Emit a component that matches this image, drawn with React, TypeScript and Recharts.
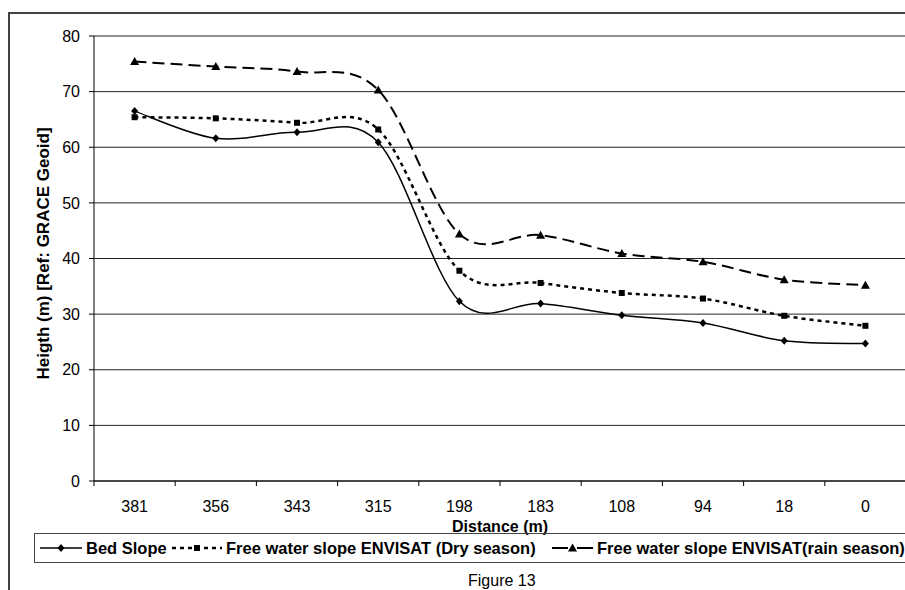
import { LineChart, Line, XAxis, YAxis, CartesianGrid } from "recharts";

const distances = ["381", "356", "343", "315", "198", "183", "108", "94", "18", "0"];
const bedSlope = [66.5, 61.6, 62.7, 60.9, 32.3, 31.9, 29.8, 28.4, 25.2, 24.7];
const drySeason = [65.4, 65.2, 64.4, 63.2, 37.8, 35.6, 33.8, 32.8, 29.7, 27.9];
const rainSeason = [75.4, 74.5, 73.6, 70.3, 44.4, 44.2, 40.9, 39.4, 36.2, 35.2];
const yTicks = [0, 10, 20, 30, 40, 50, 60, 70, 80];

const FONT = "Arial, 'Liberation Sans', sans-serif";
const CHART_W = 930;
const PLOT_LEFT = 94;
const PLOT_RIGHT = 906;
const BAND = (PLOT_RIGHT - PLOT_LEFT) / distances.length;

const series = [
  { key: "bed", name: "Bed Slope", dash: undefined, iconDash: undefined, width: 1.5, marker: "diamond", left: 5, icon: 42 },
  { key: "dry", name: "Free water slope ENVISAT (Dry season)", dash: "4 4", iconDash: "4 4", width: 2.5, marker: "square", left: 137, icon: 50 },
  { key: "rain", name: "Free water slope ENVISAT(rain season)", dash: "12 6", iconDash: "16 9", width: 2, marker: "triangle", left: 517, icon: 41 },
];

const data = distances.map((d, i) => ({
  distance: d,
  bed: bedSlope[i],
  dry: drySeason[i],
  rain: rainSeason[i],
}));

// excel style smoothing (catmull-rom as bezier segments)
function excelSmooth(context: any) {
  let pts: number[][] = [];
  return {
    areaStart() {},
    areaEnd() {},
    lineStart() {
      pts = [];
    },
    lineEnd() {
      if (!pts.length) return;
      context.moveTo(pts[0][0], pts[0][1]);
      for (let i = 0; i < pts.length - 1; i++) {
        const p0 = pts[i - 1] || pts[i];
        const p1 = pts[i];
        const p2 = pts[i + 1];
        const p3 = pts[i + 2] || p2;
        context.bezierCurveTo(
          p1[0] + (p2[0] - p0[0]) / 6,
          p1[1] + (p2[1] - p0[1]) / 6,
          p2[0] - (p3[0] - p1[0]) / 6,
          p2[1] - (p3[1] - p1[1]) / 6,
          p2[0],
          p2[1]
        );
      }
    },
    point(x: number, y: number) {
      pts.push([+x, +y]);
    },
  };
}

function Marker({ cx, cy, shape }: any) {
  if (cx == null || cy == null) return null;
  if (shape === "diamond")
    return <polygon points={`${cx},${cy - 4} ${cx + 3.5},${cy} ${cx},${cy + 4} ${cx - 3.5},${cy}`} fill="#000" />;
  if (shape === "square") return <rect x={cx - 3} y={cy - 3} width={6} height={6} fill="#000" />;
  return <polygon points={`${cx},${cy - 4.5} ${cx + 4.5},${cy + 3.5} ${cx - 4.5},${cy + 3.5}`} fill="#000" />;
}

function XTick({ x, y, payload, index }: any) {
  const last = index === distances.length - 1;
  return (
    <g>
      <line x1={x - BAND / 2} x2={x - BAND / 2} y1={y} y2={y + 5} stroke="#000" />
      {last && <line x1={x + BAND / 2} x2={x + BAND / 2} y1={y} y2={y + 5} stroke="#000" />}
      <text x={x} y={y + 31} textAnchor="middle" fontSize={16} fontFamily={FONT} fill="#000">
        {payload.value}
      </text>
    </g>
  );
}

function YLabel({ viewBox }: any) {
  const cx = 43;
  const cy = viewBox ? viewBox.y + viewBox.height / 2 - 5 : 254;
  return (
    <text
      x={cx}
      y={cy}
      dy={6}
      transform={`rotate(-90, ${cx}, ${cy})`}
      textAnchor="middle"
      fontFamily={FONT}
      fontWeight="bold"
      fontSize={17}
      fill="#000"
    >
      Heigth (m) [Ref: GRACE Geoid]
    </text>
  );
}

function LegendBox() {
  return (
    <div
      style={{
        position: "absolute",
        left: 34,
        top: 533,
        width: 900,
        height: 28,
        border: "1px solid #444",
        fontFamily: FONT,
        fontWeight: "bold",
        fontSize: 16.5,
        whiteSpace: "nowrap",
      }}
    >
      {series.map((s) => (
        <div
          key={s.key}
          style={{ position: "absolute", left: s.left, top: 0, height: 28, display: "flex", alignItems: "center" }}
        >
          <svg width={s.icon} height={12}>
            <line x1={0} x2={s.icon} y1={6} y2={6} stroke="#000" strokeWidth={s.width} strokeDasharray={s.iconDash} />
            <Marker cx={s.icon / 2} cy={6} shape={s.marker} />
          </svg>
          <span style={{ marginLeft: 4 }}>{s.name}</span>
        </div>
      ))}
    </div>
  );
}

export default function App() {
  return (
    <div style={{ position: "relative", width: 905, height: 590, overflow: "hidden", background: "#fff" }}>
      <style>{`body{margin:0;overflow:hidden}`}</style>
      <div
        style={{
          position: "absolute",
          left: 8,
          top: 12,
          width: 1000,
          height: 700,
          borderTop: "2px solid #444",
          borderLeft: "2px solid #444",
        }}
      />
      <div style={{ position: "absolute", left: 0, top: 0 }}>
        <LineChart
          width={CHART_W}
          height={590}
          data={data}
          margin={{ top: 36, right: CHART_W - PLOT_RIGHT, left: 0, bottom: 59 }}
        >
          <CartesianGrid vertical={false} stroke="#222" />
          <XAxis
            dataKey="distance"
            height={50}
            padding={{ left: BAND / 2, right: BAND / 2 }}
            tickLine={false}
            tickSize={0}
            tickMargin={0}
            tick={<XTick />}
            interval={0}
            axisLine={{ stroke: "#000" }}
            label={{
              value: "Distance (m)",
              position: "insideBottom",
              offset: -1,
              style: { fontFamily: FONT, fontWeight: "bold", fontSize: 16, fill: "#000" },
            }}
          />
          <YAxis
            width={PLOT_LEFT}
            domain={[0, 80]}
            ticks={yTicks}
            interval={0}
            tickSize={5}
            tickMargin={9}
            axisLine={{ stroke: "#000" }}
            tickLine={{ stroke: "#000" }}
            tick={{ fontSize: 16, fontFamily: FONT, fill: "#000" }}
            label={(props: any) => <YLabel viewBox={props.viewBox} />}
          />
          {series.map((s) => (
            <Line
              key={s.key}
              dataKey={s.key}
              name={s.name}
              type={excelSmooth as any}
              stroke="#000"
              strokeWidth={s.width}
              strokeDasharray={s.dash}
              dot={(p: any) => <Marker key={`${s.key}-${p.index}`} cx={p.cx} cy={p.cy} shape={s.marker} />}
              activeDot={false}
              isAnimationActive={false}
            />
          ))}
        </LineChart>
      </div>
      <LegendBox />
      <div style={{ position: "absolute", left: 468, top: 572, fontFamily: FONT, fontSize: 16 }}>Figure 13</div>
    </div>
  );
}
